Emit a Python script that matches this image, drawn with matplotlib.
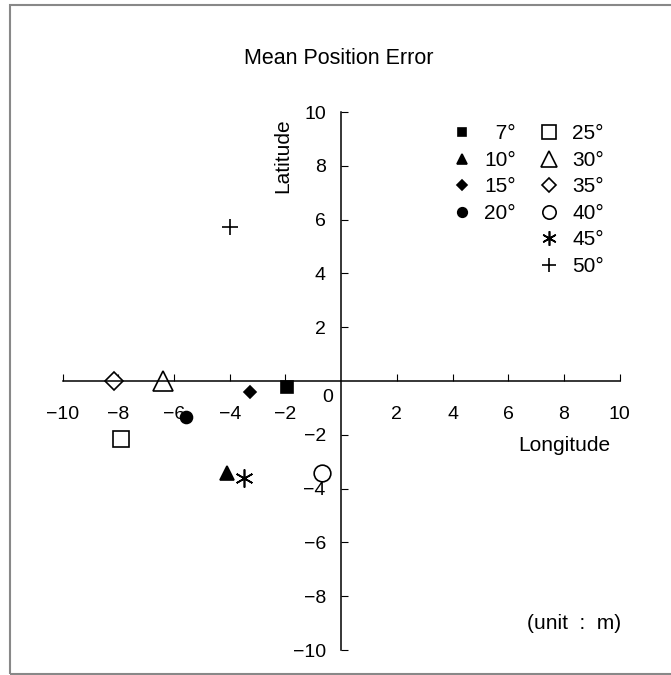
import matplotlib.pyplot as plt
from matplotlib.patches import Rectangle

plt.rcParams['font.family'] = ['Liberation Sans', 'DejaVu Sans']

# Data: mean position error per elevation angle
angles = ['\u20077°', '10°', '15°', '20°', '25°', '30°', '35°', '40°', '45°', '50°']
lon = [-1.95, -4.1, -3.26, -5.56, -7.89, -6.39, -8.16, -0.69, -3.5, -4.0]
lat = [-0.21, -3.43, -0.42, -1.33, -2.16, 0.0, 0.0, -3.43, -3.62, 5.74]
markers = ['s', '^', 'D', 'o', 's', '^', 'D', 'o', (6, 2, 0), '+']
filled = [True, True, True, True, False, False, False, False, True, True]
sizes = [8, 9.5, 6.2, 8.6, 12, 14, 9, 12, 13, 12]
ticks = [-10, -8, -6, -4, -2, 2, 4, 6, 8, 10]

fig = plt.figure(figsize=(6.71, 6.75), dpi=100)
ax = fig.add_axes([0.0934, 0.037, 0.830, 0.797])

handles = []
for x, y, m, f, s, lab in zip(lon, lat, markers, filled, sizes, angles):
    if m == '+' or isinstance(m, tuple):
        h, = ax.plot(x, y, linestyle='none', marker=m, markersize=s,
                     color='black', markeredgewidth=1.2, label=lab)
    else:
        h, = ax.plot(x, y, linestyle='none', marker=m, markersize=s,
                     markerfacecolor='black' if f else 'white',
                     markeredgecolor='black', markeredgewidth=1.2, label=lab)
    handles.append(h)

ax.set_xlim(-10, 10)
ax.set_ylim(-10, 10)
ax.spines['left'].set_position('zero')
ax.spines['bottom'].set_position('zero')
ax.spines['right'].set_visible(False)
ax.spines['top'].set_visible(False)
ax.spines['left'].set_linewidth(1.1)
ax.spines['bottom'].set_linewidth(1.1)
labels = [str(t).replace('-', '\u2212') for t in ticks]
ax.set_xticks(ticks)
ax.set_yticks(ticks)
ax.set_xticklabels(labels)
ax.set_yticklabels(labels)
ax.tick_params(axis='x', direction='in', length=5, pad=18, labelsize=14)
ax.tick_params(axis='y', direction='in', length=5, pad=11, labelsize=14)
ax.text(-0.5, -0.63, '0', fontsize=14, ha='center', va='center')
ax.patch.set_visible(False)

ax.text(-2.08, 8.36, 'Latitude', rotation=90, fontsize=15, ha='center', va='center')
ax.text(8.03, -2.38, 'Longitude', fontsize=15, ha='center', va='center')
ax.text(8.35, -9.0, '(unit  :  m)', fontsize=15, ha='center', va='center')
fig.text(0.505, 0.914, 'Mean Position Error', fontsize=15.5, ha='center', va='center')

leg1 = ax.legend(handles=handles[:4], loc='upper left', bbox_to_anchor=(0.665, 1.012),
                 frameon=False, fontsize=15, handlelength=1.0, handletextpad=0.55,
                 labelspacing=0.36, markerscale=0.8)
ax.add_artist(leg1)
ax.legend(handles=handles[4:], loc='upper left', bbox_to_anchor=(0.82, 1.012),
          frameon=False, fontsize=15, handlelength=1.0, handletextpad=0.65,
          labelspacing=0.36, markerscale=0.8)

fig.patches.append(Rectangle((10 / 671, 1 / 675), 1.0, 1 - 6 / 675,
                             transform=fig.transFigure, fill=False,
                             edgecolor='#888888', linewidth=1.5))

fig.savefig('out.png', dpi=100)
